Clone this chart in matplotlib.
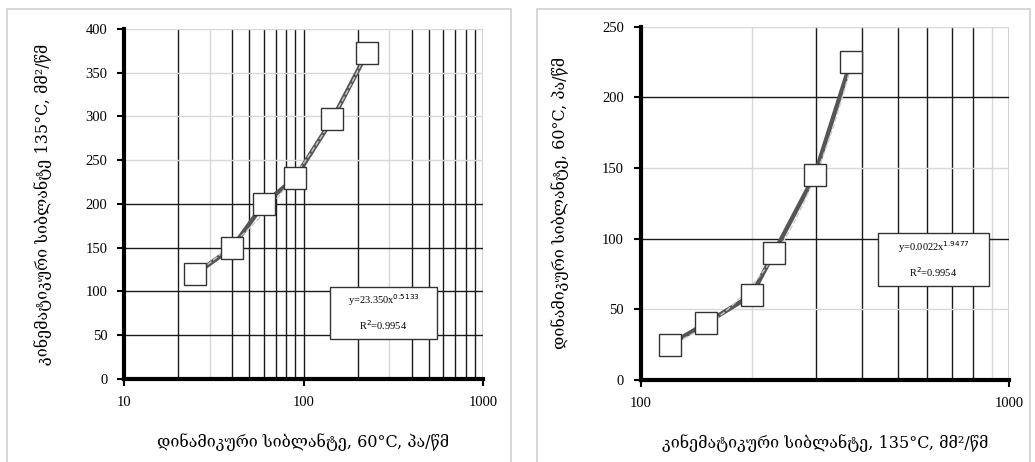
import numpy as np
import matplotlib
matplotlib.use("Agg")
import matplotlib.pyplot as plt
from matplotlib.patches import Rectangle
from matplotlib.ticker import FuncFormatter, NullFormatter

# data
kinematic = [120, 150, 200, 230, 297, 372]   # mm2/s at 135C
dynamic = [25, 40, 60, 90, 145, 225]          # Pa.s at 60C

label_dyn = "დინამიკური სიბლანტე, 60°C, პა/წმ"
label_kin_y = "კინემატიკური სიბლანტე 135°C, მმ²/წმ"
label_kin_x = "კინემატიკური სიბლანტე, 135°C, მმ²/წმ"

eq_left = ["y=23.350x$^{0.5133}$", "R$^2$=0.9954"]
eq_right = ["y=0.0022x$^{1.9477}$", "R$^2$=0.9954"]

geo = ["DejaVu Serif", "DejaVu Sans"]
plt.rcParams['font.family'] = ["Liberation Serif", "DejaVu Serif"]

fig = plt.figure(figsize=(10.35, 4.62), dpi=100)

# light panel frames
for x0, w in [(7, 504), (537, 493)]:
    fig.add_artist(Rectangle((x0 / 1035, -0.01), w / 1035, 0.99,
                             transform=fig.transFigure, fill=False,
                             ec="#cfcfcf", lw=1.2))


def power_fit(x, y):
    b, a = np.polyfit(np.log(x), np.log(y), 1)
    return np.exp(a), b


def draw(ax, x, y, xlim, ylim, ystep, light_x, light_y, eq, boxpos, xlabel, ylabel):
    ax.set_xscale("log")
    ax.set_xlim(*xlim)
    ax.set_ylim(*ylim)
    # grid
    decades = np.arange(np.log10(xlim[0]), np.log10(xlim[1]))
    for d in decades:
        for m in range(1, 10):
            v = m * 10 ** d
            if v <= xlim[0]:
                continue
            c = "#d8d8d8" if v in light_x else "#1a1a1a"
            ax.axvline(v, color=c, lw=1.0, zorder=1)
    ax.axvline(xlim[1], color="#1a1a1a", lw=1.0, zorder=1)
    for v in np.arange(ylim[0] + ystep, ylim[1] + 1, ystep):
        c = "#d8d8d8" if v in light_y else "#1a1a1a"
        ax.axhline(v, color=c, lw=1.0, zorder=1)

    # data line and trend line
    ax.plot(x, y, color="#555555", lw=3.2, zorder=3)
    a, b = power_fit(x, y)
    xs = np.linspace(min(x), max(x), 100)
    ax.plot(xs, a * xs ** b, color="#c8c8c8", lw=1.0, ls="--", zorder=4)
    ax.plot(x, y, ls="none", marker="s", ms=16, mfc="white", mec="#333333",
            mew=1.0, zorder=5)

    for s in ["top", "right"]:
        ax.spines[s].set_visible(False)
    for s in ["left", "bottom"]:
        ax.spines[s].set_linewidth(3)
        ax.spines[s].set_zorder(6)
    ax.set_yticks(np.arange(ylim[0], ylim[1] + 1, ystep))
    ax.tick_params(axis="both", which="major", length=5, width=1.5,
                   labelsize=10.5, direction="out", pad=7)
    ax.tick_params(axis="x", which="minor", length=0)
    ax.xaxis.set_major_formatter(FuncFormatter(lambda v, p: f"{v:g}"))
    ax.xaxis.set_minor_formatter(NullFormatter())

    # equation box
    bx, by = boxpos
    ax.add_patch(Rectangle((bx - 0.15, by - 0.075), 0.30, 0.15,
                           transform=ax.transAxes, fc="white", ec="#333333",
                           lw=1.0, zorder=7))
    ax.text(bx, by + 0.035, eq[0], transform=ax.transAxes, ha="center",
            va="center", fontsize=7.5, zorder=8)
    ax.text(bx, by - 0.035, eq[1], transform=ax.transAxes, ha="center",
            va="center", fontsize=7.5, zorder=8)

    ax.set_xlabel(xlabel, family=geo, fontsize=11.5, labelpad=18)
    ax.set_ylabel(ylabel, family=geo, fontsize=11.5, labelpad=24)


ax1 = fig.add_axes([0.1198, 0.1797, 0.3469, 0.7576])
draw(ax1, dynamic, kinematic, (10, 1000), (0, 400), 50,
     light_x=[30, 300], light_y=[250, 300, 350, 400],
     eq=eq_left, boxpos=(0.723, 0.189),
     xlabel=label_dyn, ylabel=label_kin_y)

ax2 = fig.add_axes([0.619, 0.1775, 0.3559, 0.7647])
draw(ax2, kinematic, dynamic, (100, 1000), (0, 250), 50,
     light_x=[200, 900], light_y=[50, 150, 250],
     eq=eq_right, boxpos=(0.795, 0.341),
     xlabel=label_kin_x, ylabel=label_dyn)

fig.savefig("out.png", dpi=100, facecolor="white")
